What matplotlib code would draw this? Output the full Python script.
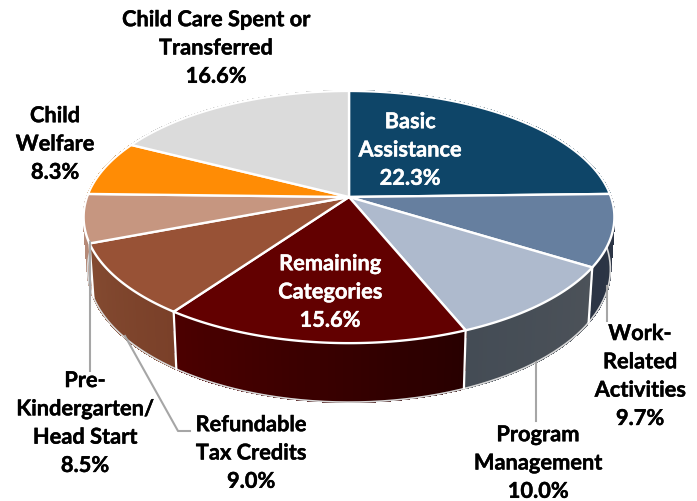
import numpy as np
import matplotlib
matplotlib.use("Agg")
import matplotlib.pyplot as plt
import matplotlib.patheffects as pe
from matplotlib.colors import to_rgb

categories = ["Basic\nAssistance", "Work-\nRelated\nActivities", "Program\nManagement",
              "Remaining\nCategories", "Refundable\nTax Credits",
              "Pre-\nKindergarten/\nHead Start", "Child\nWelfare",
              "Child Care Spent or\nTransferred"]
values = [22.3, 9.7, 10.0, 15.6, 9.0, 8.5, 8.3, 16.6]
top_colors = ["#0E4568", "#667F9F", "#AEBACD", "#620000", "#985236", "#C69680", "#FF8C05", "#DBDBDB"]
wall_left = ["#0A3048", "#2B3444", "#444C55", "#4C0000", "#844B31", "#B58A78", "#B06000", "#999999"]
wall_right = ["#0A3048", "#2D3648", "#4C5259", "#280000", "#7A4029", "#B58A78", "#B06000", "#999999"]
label_xy = [(410, 151), (640, 377), (538, 464), (330, 293), (251, 454), (85, 424), (55, 145), (216, 49)]
label_color = ["white", "black", "black", "white", "black", "black", "black", "black"]

# Rendered 3D pie: label share -> apparent sweep share, perspective projection
warp_in = [0, 22.3, 32, 42, 57.6, 66.6, 75.1, 83.4, 100]
warp_out = [0, 24.6, 33.8, 43.8, 59.9, 69.2, 75.4, 82.5, 100]
CX, CY, RX, RY, K = 349, 198, 262, 122.9, 0.159


def project(cum):
    a = np.deg2rad(np.interp(cum, warp_in, warp_out) * 3.6)
    x, y = np.sin(a), np.cos(a)
    d = 1 + K * y
    return CX + RX * x / d, CY - RY * y / d, y, x


def bottom(cum):
    X, Y, y, _ = project(cum)
    return CX + (X - CX) * 0.985, Y + 51.2 / (1 + 0.132 * y)


fig = plt.figure(figsize=(6.97, 5.02), dpi=100)
ax = fig.add_axes([0, 0, 1, 1])
ax.set_xlim(0, 697)
ax.set_ylim(502, 0)
ax.axis("off")

edges = np.concatenate([[0], np.cumsum(values)])

# walls, back to front, with a shaded gradient along each slice
segs = []
for i in range(len(values)):
    ts = np.linspace(edges[i], edges[i + 1], 41)
    for j in range(40):
        t0, t1 = ts[j], ts[j + 1]
        f = j / 39
        c1, c2 = to_rgb(wall_left[i]), to_rgb(wall_right[i])
        if project(t0)[0] > project(t1)[0]:   # running right to left along the front
            f = 1 - f
        col = tuple((1 - f) * a + f * b for a, b in zip(c1, c2))
        segs.append((project((t0 + t1) / 2)[2], t0, t1, col))
segs.sort(key=lambda s: -s[0])
for _, t0, t1, col in segs:
    x0, y0 = project(t0)[:2]
    x1, y1 = project(t1)[:2]
    bx0, by0 = bottom(t0)
    bx1, by1 = bottom(t1)
    ax.fill([x0, x1, bx1, bx0], [y0, y1, by1, by0], facecolor=col, edgecolor=col, lw=0.8,
            antialiased=False, zorder=1)

# bottom rim and wall dividers
tt = np.linspace(edges[1] - 6, edges[5] + 8, 300)
pts = np.array([bottom(t) for t in tt])
ax.plot(pts[:, 0], pts[:, 1], color="#D9D9D9", lw=1.2, zorder=2)
for e in edges[2:6]:
    ax.plot([project(e)[0], bottom(e)[0]], [project(e)[1], bottom(e)[1]], color="white", lw=1.6, zorder=2)

# top faces
for i in range(len(values)):
    ts = np.linspace(edges[i], edges[i + 1], 120)
    xs = [CX] + [project(t)[0] for t in ts]
    ys = [CY] + [project(t)[1] for t in ts]
    ax.fill(xs, ys, facecolor=top_colors[i], edgecolor="white", lw=1.7, joinstyle="round", zorder=3)

# leader lines
leaders = [([90, 90], [243, 372]), ([125, 178, 190], [337, 432, 432]),
           ([536, 536], [363, 422]), ([607, 607], [287, 322])]
for lx, ly in leaders:
    ax.plot(lx, ly, color="#A6A6A6", lw=1.5, zorder=4)

# labels
for name, v, (lx, ly), c in zip(categories, values, label_xy, label_color):
    t = ax.text(lx, ly, f"{name}\n{v:.1f}%", ha="center", va="center", color=c,
                family="Lato", fontweight="bold", fontsize=15.7, linespacing=1.43, zorder=5)
    t.set_path_effects([pe.withStroke(linewidth=0.3, foreground=c)])

fig.savefig("out.png", dpi=100)
